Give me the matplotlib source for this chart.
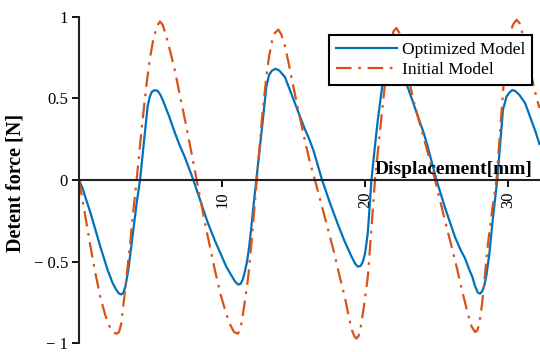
import matplotlib
matplotlib.use('Agg')
import matplotlib.pyplot as plt

# Detent force vs displacement
opt_x = [0, 0.25, 0.5, 0.8, 1.1, 1.5, 2.0, 2.35, 2.6, 2.8, 2.95, 3.1, 3.25, 3.45,
         3.65, 3.85, 4.05, 4.27, 4.55, 4.8, 4.95, 5.1, 5.3, 5.5, 5.7, 5.9, 6.3,
         6.7, 7.05, 7.4, 7.7, 8.0, 8.5, 9.0, 9.5, 9.9, 10.3, 10.7, 10.95, 11.15,
         11.3, 11.45, 11.6, 11.75, 11.9, 12.05, 12.2, 12.4, 12.8, 13.1, 13.3, 13.5,
         13.75, 14.0, 14.4, 14.75, 15.1, 15.45, 15.8, 16.1, 16.4, 16.7, 17.0,
         17.55, 18.1, 18.6, 19.07, 19.3, 19.5, 19.7, 19.85, 20.0, 20.1, 20.2,
         20.32, 20.45, 20.7, 20.9, 21.2, 21.5, 21.8, 22.0, 22.2, 22.4, 22.6, 22.9,
         23.3, 23.7, 24.1, 24.4, 24.7, 25.0, 25.6, 26.3, 26.7, 27.0, 27.3, 27.5,
         27.7, 27.9, 28.05, 28.2, 28.35, 28.5, 28.7, 28.95, 29.25, 29.65, 29.9,
         30.1, 30.3, 30.5, 30.8, 31.2, 31.45, 31.7, 31.95, 32.2]
opt_y = [0, -0.05, -0.12, -0.2, -0.29, -0.41, -0.55, -0.63, -0.67, -0.695, -0.70,
         -0.69, -0.65, -0.55, -0.41, -0.27, -0.13, 0.0, 0.24, 0.45, 0.51, 0.54,
         0.55, 0.545, 0.52, 0.48, 0.39, 0.29, 0.21, 0.14, 0.07, 0.0, -0.13, -0.26,
         -0.37, -0.45, -0.53, -0.59, -0.625, -0.64, -0.635, -0.61, -0.56, -0.50,
         -0.41, -0.29, -0.16, 0.0, 0.32, 0.57, 0.645, 0.67, 0.68, 0.67, 0.63, 0.55,
         0.47, 0.39, 0.31, 0.25, 0.18, 0.09, 0.0, -0.14, -0.27, -0.38, -0.47,
         -0.51, -0.53, -0.525, -0.50, -0.45, -0.39, -0.32, -0.17, 0.0, 0.21, 0.37,
         0.57, 0.64, 0.675, 0.68, 0.675, 0.65, 0.625, 0.59, 0.49, 0.39, 0.29, 0.2,
         0.1, 0.0, -0.17, -0.35, -0.43, -0.48, -0.55, -0.59, -0.65, -0.69, -0.695,
         -0.68, -0.645, -0.58, -0.45, -0.23, 0.0, 0.43, 0.51, 0.535, 0.55, 0.545,
         0.52, 0.47, 0.41, 0.35, 0.29, 0.22]

init_x = [0, 0.4, 0.77, 1.1, 1.5, 1.85, 2.2, 2.45, 2.65, 2.8, 2.95, 3.2, 3.4, 3.6,
          3.8, 4.03, 4.4, 4.73, 4.95, 5.2, 5.45, 5.66, 5.85, 6.1, 6.4, 6.7, 7.1,
          7.5, 7.9, 8.23, 8.85, 9.5, 9.9, 10.3, 10.6, 10.85, 11.1, 11.25, 11.4,
          11.6, 11.84, 12.1, 12.43, 12.8, 13.1, 13.3, 13.5, 13.7, 13.94, 14.15,
          14.4, 14.65, 14.9, 15.35, 15.8, 16.15, 16.5, 17.2, 17.8, 18.2, 18.6,
          18.9, 19.1, 19.25, 19.4, 19.55, 19.7, 19.95, 20.2, 20.45, 20.7, 21.05,
          21.4, 21.65, 21.85, 22.0, 22.2, 22.4, 22.6, 22.9, 23.25, 23.5, 24.2,
          24.9, 25.6, 26.3, 26.8, 27.2, 27.45, 27.7, 27.85, 28.0, 28.2, 28.4, 28.6,
          28.9, 29.2, 29.45, 29.7, 29.9, 30.1, 30.35, 30.6, 30.8, 31.0, 31.3,
          31.66, 31.95, 32.2]
init_y = [0, -0.2, -0.39, -0.55, -0.72, -0.83, -0.91, -0.935, -0.94, -0.93,
          -0.88, -0.69, -0.53, -0.37, -0.19, 0.0, 0.33, 0.59, 0.74, 0.86, 0.94,
          0.97, 0.95, 0.88, 0.78, 0.67, 0.50, 0.33, 0.15, 0.0, -0.28, -0.55, -0.70,
          -0.82, -0.89, -0.93, -0.94, -0.92, -0.86, -0.74, -0.59, -0.35, 0.0, 0.38,
          0.63, 0.76, 0.85, 0.90, 0.92, 0.89, 0.82, 0.72, 0.61, 0.42, 0.24, 0.11,
          0.0, -0.23, -0.43, -0.58, -0.72, -0.85, -0.92, -0.955, -0.97, -0.955,
          -0.90, -0.76, -0.59, -0.3, 0.0, 0.3, 0.59, 0.75, 0.86, 0.91, 0.93, 0.90,
          0.85, 0.72, 0.54, 0.45, 0.23, 0.0, -0.25, -0.49, -0.68, -0.82, -0.895,
          -0.93, -0.92, -0.88, -0.75, -0.57, -0.39, -0.18, 0.0, 0.30, 0.59, 0.76,
          0.88, 0.95, 0.98, 0.96, 0.90, 0.78, 0.63, 0.52, 0.44]

x_ticks = [10, 20, 30]
y_ticks = [-1, -0.5, 0, 0.5, 1]
y_tick_labels = ['\u2212 1', '\u2212 0.5', '0', '0.5', '1']

plt.rcParams['font.family'] = ['Liberation Serif', 'DejaVu Serif']

fig = plt.figure(figsize=(5.4, 3.52), dpi=100)
ax = fig.add_axes([79 / 540, 0, 461 / 540, 1])

ax.plot(opt_x, opt_y, color='#0072BD', lw=1.6, label='Optimized Model')
ax.plot(init_x, init_y, color='#D95319', lw=1.6, ls=(0, (7, 3, 1.2, 3)),
        label='Initial Model')

ax.set_xlim(0, 32.24)
ax.set_ylim(-1.052, 1.101)

# axes look
for s in ['top', 'right']:
    ax.spines[s].set_visible(False)
ax.spines['bottom'].set_position(('data', 0))
ax.spines['left'].set_bounds(-1, 1)
for s in ['bottom', 'left']:
    ax.spines[s].set_linewidth(1.5)
    ax.spines[s].set_color('#222222')

ax.set_xticks(x_ticks)
ax.set_xticklabels([str(t) for t in x_ticks], rotation=90, fontsize=12)
ax.set_yticks(y_ticks)
ax.set_yticklabels(y_tick_labels, fontsize=12)
ax.tick_params(axis='both', direction='out', length=5, width=1.3, pad=3)

ax.set_ylabel('Detent force [N]', fontsize=14.5, fontweight='bold')
ax.yaxis.set_label_coords((26 - 79) / 461, 0.479)

ax.text(31.7, 0.015, 'Displacement[mm]', fontsize=14, fontweight='bold',
        ha='right', va='bottom')

leg = ax.legend(loc='upper left', bbox_to_anchor=(250 / 461, 1 - 35 / 352),
                borderaxespad=0, fancybox=False, fontsize=12.5, handlelength=3.5,
                handletextpad=0.3, borderpad=0.4, labelspacing=0.2, framealpha=1)
leg.get_frame().set_edgecolor('black')
leg.get_frame().set_linewidth(1.5)

fig.savefig('out.png', dpi=100)
